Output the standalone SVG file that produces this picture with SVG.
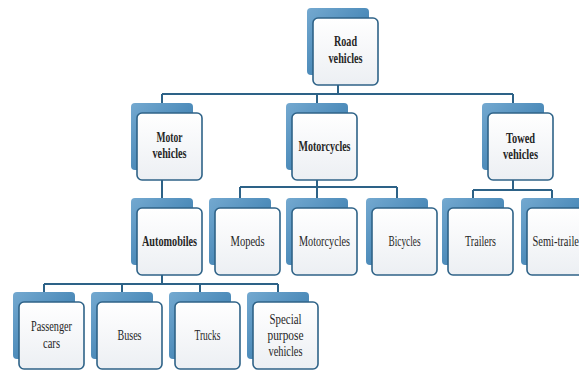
<svg xmlns="http://www.w3.org/2000/svg" width="579" height="370" viewBox="0 0 579 370">
<defs>
<linearGradient id="gBack" x1="0" y1="0" x2="1" y2="1">
<stop offset="0" stop-color="#74a9d0"/>
<stop offset="0.5" stop-color="#4f8dbb"/>
<stop offset="1" stop-color="#3c77a2"/>
</linearGradient>
<linearGradient id="gFront" x1="0" y1="0" x2="0" y2="1">
<stop offset="0" stop-color="#ffffff"/>
<stop offset="1" stop-color="#eceff3"/>
</linearGradient>
<g id="box">
<rect x="-6" y="-10" width="62" height="67" rx="4" fill="url(#gBack)"/>
<rect x="0" y="0" width="65" height="67" rx="5" fill="url(#gFront)" stroke="#2f6388" stroke-width="1.6"/>
</g>
</defs>
<style>
.t{font-family:'Liberation Serif','Times New Roman','DejaVu Serif',serif;font-size:15px;fill:#262626;text-anchor:middle}
.b{font-weight:bold}
.conn{fill:none;stroke:#2d6287;stroke-width:2}
</style>
<rect width="579" height="370" fill="#ffffff"/>
<g id="connectors" class="conn">
<path d="M338 84V94M162 94H513M162 94V103M317 94V103M513 94V103"/>
<path d="M162 180V198"/>
<path d="M317 179V187M240 187H397M240 187V198M317 187V198M397 187V198"/>
<path d="M513 179V190M473 190H552M473 190V198M552 190V198"/>
<path d="M162 275V284M44 284H278M44 284V293M122 284V293M200 284V293M278 284V293"/>
</g>
<g id="road"><use href="#box" x="313" y="18"/><text class="t b" x="345.5" y="46" textLength="23" lengthAdjust="spacingAndGlyphs">Road</text><text class="t b" x="345.5" y="63" textLength="34" lengthAdjust="spacingAndGlyphs">vehicles</text></g>
<g id="motor"><use href="#box" x="137" y="113"/><text class="t b" x="169.5" y="142" textLength="26" lengthAdjust="spacingAndGlyphs">Motor</text><text class="t b" x="169.5" y="158" textLength="34" lengthAdjust="spacingAndGlyphs">vehicles</text></g>
<g id="motorcycles1"><use href="#box" x="292" y="113"/><text class="t b" x="324.5" y="151" textLength="52" lengthAdjust="spacingAndGlyphs">Motorcycles</text></g>
<g id="towed"><use href="#box" x="488" y="113"/><text class="t b" x="520.5" y="143" textLength="29" lengthAdjust="spacingAndGlyphs">Towed</text><text class="t b" x="520.5" y="159" textLength="35" lengthAdjust="spacingAndGlyphs">vehicles</text></g>
<g id="automobiles"><use href="#box" x="137" y="208"/><text class="t b" x="169.5" y="246" textLength="55" lengthAdjust="spacingAndGlyphs">Automobiles</text></g>
<g id="mopeds"><use href="#box" x="215" y="208"/><text class="t" x="247.5" y="246" textLength="34" lengthAdjust="spacingAndGlyphs">Mopeds</text></g>
<g id="motorcycles2"><use href="#box" x="292" y="208"/><text class="t" x="324.5" y="246" textLength="51" lengthAdjust="spacingAndGlyphs">Motorcycles</text></g>
<g id="bicycles"><use href="#box" x="372" y="208"/><text class="t" x="404.5" y="246" textLength="32" lengthAdjust="spacingAndGlyphs">Bicycles</text></g>
<g id="trailers"><use href="#box" x="448" y="208"/><text class="t" x="480.5" y="246" textLength="31" lengthAdjust="spacingAndGlyphs">Trailers</text></g>
<g id="semitrailers"><use href="#box" x="527" y="208"/><text class="t" x="559.5" y="246" textLength="54" lengthAdjust="spacingAndGlyphs">Semi-trailers</text></g>
<g id="passenger"><use href="#box" x="19" y="302"/><text class="t" x="51.5" y="331" textLength="41" lengthAdjust="spacingAndGlyphs">Passenger</text><text class="t" x="51.5" y="348" textLength="17" lengthAdjust="spacingAndGlyphs">cars</text></g>
<g id="buses"><use href="#box" x="97" y="302"/><text class="t" x="129.5" y="340" textLength="24" lengthAdjust="spacingAndGlyphs">Buses</text></g>
<g id="trucks"><use href="#box" x="175" y="302"/><text class="t" x="207.5" y="340" textLength="26" lengthAdjust="spacingAndGlyphs">Trucks</text></g>
<g id="special"><use href="#box" x="253" y="302"/><text class="t" x="285.5" y="324" textLength="32" lengthAdjust="spacingAndGlyphs">Special</text><text class="t" x="285.5" y="340" textLength="36" lengthAdjust="spacingAndGlyphs">purpose</text><text class="t" x="285.5" y="356" textLength="34" lengthAdjust="spacingAndGlyphs">vehicles</text></g>
</svg>
